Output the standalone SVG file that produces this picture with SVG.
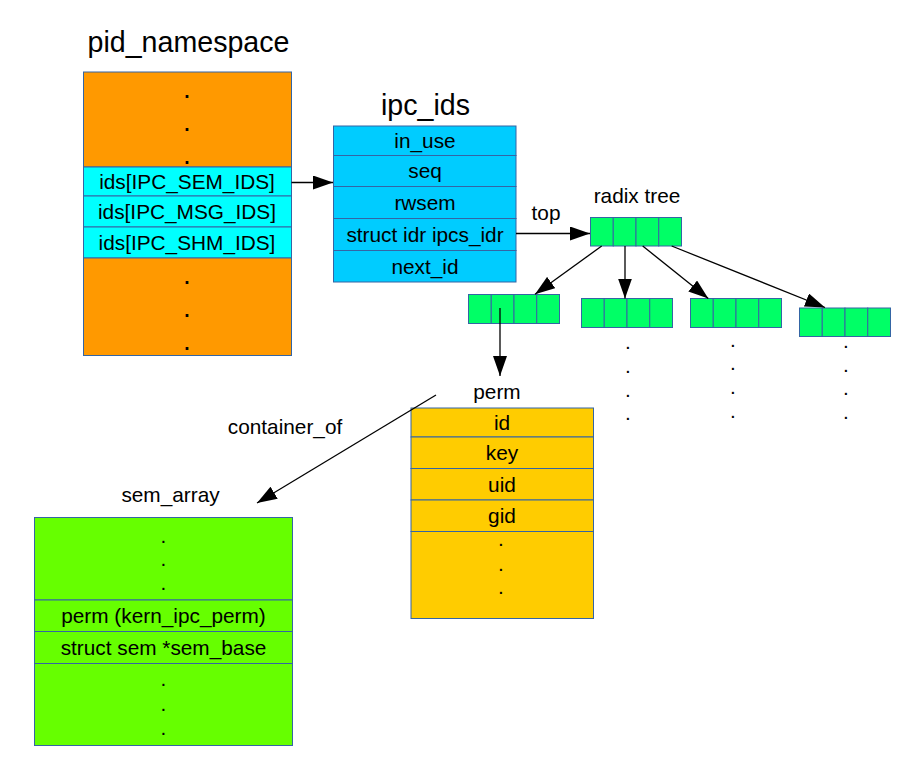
<svg xmlns="http://www.w3.org/2000/svg" width="910" height="781" viewBox="0 0 910 781">
<style>
text{font-family:"Liberation Sans",Arial,sans-serif;fill:#000;text-anchor:middle}
.t{font-size:28.6px}
.f{font-size:20.8px}
.d{font-size:28px}
.box{stroke:#3465a4;stroke-width:1}
.or{fill:#ff9900}.cy{fill:#00ffff}.ip{fill:#00ccff}.rx{fill:#00ff66}.sm{fill:#66ff00}.pm{fill:#ffcc00}
.ln{stroke:#000;stroke-width:1.3;fill:none}
</style>
<defs>
<marker id="ah" viewBox="0 0 20 14" refX="20" refY="7" markerWidth="20" markerHeight="14" orient="auto" markerUnits="userSpaceOnUse">
<path d="M0,0 L20,7 L0,14 z" fill="#000"/>
</marker>
</defs>

<g id="pid_namespace">
<text class="t" x="188.5" y="52">pid_namespace</text>
<rect class="box or" x="83.5" y="72" width="208" height="95"/>
<rect class="box cy" x="83.5" y="167" width="208" height="29"/>
<rect class="box cy" x="83.5" y="196" width="208" height="31"/>
<rect class="box cy" x="83.5" y="227" width="208" height="31"/>
<rect class="box or" x="83.5" y="258" width="208" height="97.5"/>
<text class="d" x="187" y="98">.</text>
<text class="d" x="187" y="131">.</text>
<text class="d" x="187" y="164">.</text>
<text class="f" x="187" y="189">ids[IPC_SEM_IDS]</text>
<text class="f" x="187" y="219">ids[IPC_MSG_IDS]</text>
<text class="f" x="187" y="250">ids[IPC_SHM_IDS]</text>
<text class="d" x="187" y="284">.</text>
<text class="d" x="187" y="317">.</text>
<text class="d" x="187" y="350">.</text>
</g>

<g id="ipc_ids">
<text class="t" x="425.5" y="115">ipc_ids</text>
<rect class="box ip" x="333.5" y="126" width="182.5" height="29.5"/>
<rect class="box ip" x="333.5" y="155.5" width="182.5" height="31"/>
<rect class="box ip" x="333.5" y="186.5" width="182.5" height="32"/>
<rect class="box ip" x="333.5" y="218.5" width="182.5" height="32"/>
<rect class="box ip" x="333.5" y="250.5" width="182.5" height="31.5"/>
<text class="f" x="425" y="148">in_use</text>
<text class="f" x="425" y="178">seq</text>
<text class="f" x="425" y="210">rwsem</text>
<text class="f" x="425" y="241.5">struct idr ipcs_idr</text>
<text class="f" x="425" y="273.5">next_id</text>
</g>

<g id="radix_tree">
<text class="f" x="637" y="203">radix tree</text>
<rect class="box rx" x="590.5" y="217.5" width="22.75" height="28.5"/>
<rect class="box rx" x="613.25" y="217.5" width="22.75" height="28.5"/>
<rect class="box rx" x="636" y="217.5" width="22.75" height="28.5"/>
<rect class="box rx" x="658.75" y="217.5" width="22.75" height="28.5"/>
</g>

<g id="radix_node_a">
<rect class="box rx" x="468.5" y="294.5" width="22.75" height="29"/>
<rect class="box rx" x="491.25" y="294.5" width="22.75" height="29"/>
<rect class="box rx" x="514" y="294.5" width="22.75" height="29"/>
<rect class="box rx" x="536.75" y="294.5" width="22.75" height="29"/>
</g>

<g id="radix_node_b">
<rect class="box rx" x="581.5" y="298.5" width="22.75" height="29"/>
<rect class="box rx" x="604.25" y="298.5" width="22.75" height="29"/>
<rect class="box rx" x="627" y="298.5" width="22.75" height="29"/>
<rect class="box rx" x="649.75" y="298.5" width="22.75" height="29"/>
<text class="f" x="628" y="349">.</text>
<text class="f" x="628" y="373">.</text>
<text class="f" x="628" y="397">.</text>
<text class="f" x="628" y="420">.</text>
</g>

<g id="radix_node_c">
<rect class="box rx" x="690.5" y="298.5" width="22.75" height="29"/>
<rect class="box rx" x="713.25" y="298.5" width="22.75" height="29"/>
<rect class="box rx" x="736" y="298.5" width="22.75" height="29"/>
<rect class="box rx" x="758.75" y="298.5" width="22.75" height="29"/>
<text class="f" x="733" y="347">.</text>
<text class="f" x="733" y="370">.</text>
<text class="f" x="733" y="394">.</text>
<text class="f" x="733" y="418">.</text>
</g>

<g id="radix_node_d">
<rect class="box rx" x="799.5" y="308" width="22.75" height="28.5"/>
<rect class="box rx" x="822.25" y="308" width="22.75" height="28.5"/>
<rect class="box rx" x="845" y="308" width="22.75" height="28.5"/>
<rect class="box rx" x="867.75" y="308" width="22.75" height="28.5"/>
<text class="f" x="846" y="348">.</text>
<text class="f" x="846" y="372">.</text>
<text class="f" x="846" y="395">.</text>
<text class="f" x="846" y="419">.</text>
</g>

<g id="perm">
<text class="f" x="497" y="399">perm</text>
<rect class="box pm" x="411" y="408" width="182.5" height="29"/>
<rect class="box pm" x="411" y="437" width="182.5" height="31.5"/>
<rect class="box pm" x="411" y="468.5" width="182.5" height="31.5"/>
<rect class="box pm" x="411" y="500" width="182.5" height="31.5"/>
<rect class="box pm" x="411" y="531.5" width="182.5" height="87"/>
<text class="f" x="502" y="429.5">id</text>
<text class="f" x="502" y="460">key</text>
<text class="f" x="502" y="491.5">uid</text>
<text class="f" x="502" y="523">gid</text>
<text class="f" x="501" y="546">.</text>
<text class="f" x="501" y="571">.</text>
<text class="f" x="501" y="594">.</text>
</g>

<g id="sem_array">
<text class="f" x="170.5" y="502">sem_array</text>
<rect class="box sm" x="34.5" y="517.5" width="258" height="82.5"/>
<rect class="box sm" x="34.5" y="600" width="258" height="31.5"/>
<rect class="box sm" x="34.5" y="631.5" width="258" height="32"/>
<rect class="box sm" x="34.5" y="663.5" width="258" height="82"/>
<text class="f" x="163.5" y="543">.</text>
<text class="f" x="163.5" y="566">.</text>
<text class="f" x="163.5" y="590">.</text>
<text class="f" x="163.5" y="623">perm (kern_ipc_perm)</text>
<text class="f" x="163.5" y="654.5">struct sem *sem_base</text>
<text class="f" x="163.5" y="686">.</text>
<text class="f" x="163.5" y="711">.</text>
<text class="f" x="163.5" y="735">.</text>
</g>

<g id="connectors">
<line class="ln" x1="291.5" y1="182.5" x2="333" y2="182.5" marker-end="url(#ah)"/>
<line class="ln" x1="516" y1="233.5" x2="590" y2="233.5" marker-end="url(#ah)"/>
<text class="f" x="546" y="220">top</text>
<line class="ln" x1="601.7" y1="246" x2="535" y2="294.3" marker-end="url(#ah)"/>
<line class="ln" x1="625" y1="246" x2="625" y2="298.5" marker-end="url(#ah)"/>
<line class="ln" x1="642.7" y1="246" x2="708.3" y2="298.5" marker-end="url(#ah)"/>
<line class="ln" x1="671.7" y1="246" x2="825" y2="307.5" marker-end="url(#ah)"/>
<line class="ln" x1="500" y1="308" x2="500" y2="376" marker-end="url(#ah)"/>
<line class="ln" x1="436" y1="395" x2="257" y2="503" marker-end="url(#ah)"/>
<text class="f" x="285" y="434">container_of</text>
</g>
</svg>
